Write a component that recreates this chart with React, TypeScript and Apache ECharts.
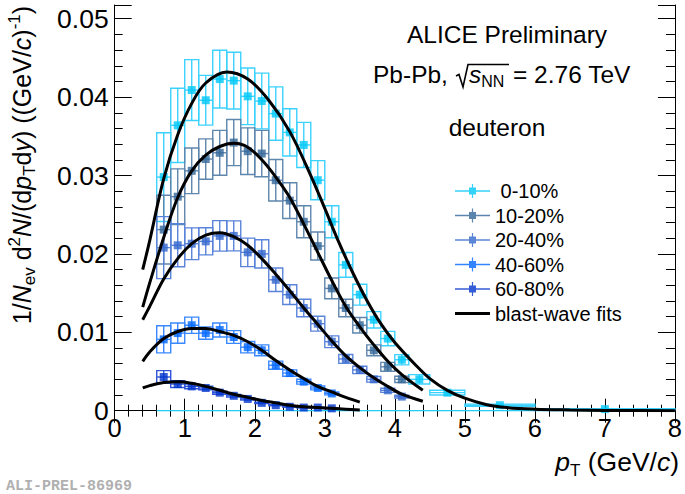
import { useEffect, useRef } from 'react';
import * as echarts from 'echarts';

// ---------- data ----------
const centralityLabels = ['0-10%', '10-20%', '20-40%', '40-60%', '60-80%'];
const fitLabel = 'blast-wave fits';
const markerColors = ['#00c8f8', '#336699', '#3366cc', '#0066ff', '#0033cc'];
const boxColors = ['#3cd2ff', '#5f86ad', '#5a84da', '#3a88ff', '#2f55d8'];

const ptBinCenters = [0.7, 0.9, 1.1, 1.3, 1.5, 1.7, 1.9, 2.1, 2.3, 2.5, 2.7, 2.9, 3.1, 3.3, 3.5, 3.7, 3.9, 4.1, 4.35, 4.75, 5.5, 7.0];
const ptBinWidths = [0.2, 0.2, 0.2, 0.2, 0.2, 0.2, 0.2, 0.2, 0.2, 0.2, 0.2, 0.2, 0.2, 0.2, 0.2, 0.2, 0.2, 0.2, 0.3, 0.5, 1.0, 2.0];
const sysRelative = [0.19, 0.13, 0.095, 0.08, 0.087, 0.086, 0.09, 0.09, 0.09, 0.085, 0.085, 0.085, 0.085, 0.085, 0.09, 0.09, 0.1, 0.1, 0.15, 0.13, 0.2, 0.3];

const yields0to10 = [0.0298, 0.0364, 0.0409, 0.0396, 0.0423, 0.0421, 0.0401, 0.0395, 0.0379, 0.0355, 0.0339, 0.0294, 0.0241, 0.0186, 0.0148, 0.0116, 0.0092, 0.0065, 0.0040, 0.0023, 0.0007, 0.0002];
const yields10to20 = [0.0231, 0.0273, 0.0306, 0.0321, 0.0329, 0.0342, 0.0331, 0.0328, 0.0294, 0.0268, 0.0241, 0.0210, 0.0156, 0.0131, 0.0109, 0.0077, 0.0056, 0.0040];
const yields20to40 = [0.0208, 0.0211, 0.0213, 0.0216, 0.0223, 0.0223, 0.0202, 0.0200, 0.0167, 0.0148, 0.0131, 0.0111, 0.0088, 0.0066, 0.0052, 0.0040, 0.0026, 0.0018];
const yields40to60 = [0.0091, 0.0099, 0.0109, 0.0099, 0.0103, 0.0094, 0.0081, 0.0077, 0.0058, 0.0048, 0.0037, 0.0029, 0.0022];
const yields60to80 = [0.0043, 0.0034, 0.0031, 0.0029, 0.0023, 0.0019, 0.0015, 0.0010, 0.0007, 0.0005, 0.0004, 0.0004, 0.0003];

const fitPt0to10 = [0.4, 0.5, 0.7, 0.9, 1.1, 1.3, 1.6, 1.9, 2.2, 2.5, 2.8, 3.0, 3.2, 3.4, 3.6, 3.8, 4.0, 4.3, 4.5, 4.75, 5.0, 5.3, 5.6, 6.0, 6.5, 7.0, 8.0];
const fitVal0to10 = [0.0180, 0.0217, 0.0296, 0.0352, 0.0392, 0.0418, 0.0432, 0.0423, 0.0396, 0.0356, 0.0300, 0.0258, 0.0215, 0.0176, 0.0141, 0.0111, 0.0087, 0.0058, 0.0041, 0.0026, 0.0016, 0.0008, 0.0004, 0.0002, 0.0001, 0.00004, 0.0];
const fitPt10to20 = [0.4, 0.5, 0.7, 0.9, 1.1, 1.3, 1.5, 1.7, 1.9, 2.1, 2.3, 2.5, 2.7, 2.9, 3.1, 3.3, 3.5, 3.7, 3.9, 4.1, 4.4];
const fitVal10to20 = [0.0132, 0.0163, 0.0221, 0.0272, 0.0306, 0.0326, 0.0337, 0.0341, 0.0336, 0.0320, 0.0298, 0.0272, 0.0238, 0.0202, 0.0166, 0.0133, 0.0107, 0.0084, 0.0063, 0.0046, 0.0026];
const fitPt20to40 = [0.4, 0.5, 0.7, 0.9, 1.1, 1.3, 1.5, 1.7, 1.9, 2.1, 2.3, 2.5, 2.7, 2.9, 3.1, 3.3, 3.5, 3.7, 3.9, 4.1, 4.4];
const fitVal20to40 = [0.0116, 0.0133, 0.0168, 0.0194, 0.0213, 0.0224, 0.0227, 0.0222, 0.0211, 0.0194, 0.0174, 0.0153, 0.0131, 0.0110, 0.0089, 0.0070, 0.0055, 0.0042, 0.0031, 0.0021, 0.0012];
const fitPt40to60 = [0.4, 0.5, 0.7, 0.9, 1.1, 1.3, 1.5, 1.7, 1.9, 2.1, 2.3, 2.5, 2.7, 2.9, 3.1, 3.3, 3.5];
const fitVal40to60 = [0.0063, 0.0075, 0.0092, 0.0101, 0.0105, 0.0105, 0.0101, 0.0096, 0.0088, 0.0077, 0.0064, 0.0052, 0.0041, 0.0031, 0.0024, 0.0017, 0.0011];
const fitPt60to80 = [0.4, 0.5, 0.7, 0.9, 1.1, 1.3, 1.5, 1.7, 1.9, 2.1, 2.3, 2.5, 2.7, 2.9, 3.1, 3.3, 3.5];
const fitVal60to80 = [0.0029, 0.0032, 0.0036, 0.0037, 0.0035, 0.0031, 0.0026, 0.0021, 0.0017, 0.0013, 0.0010, 0.0007, 0.0005, 0.0004, 0.0003, 0.0002, 0.0001];

const baselinePt = [0.6, 8];

const yTickValues = [0, 0.01, 0.02, 0.03, 0.04, 0.05];
const yTickLabels = ['0', '0.01', '0.02', '0.03', '0.04', '0.05'];
const xTickValues = [0, 1, 2, 3, 4, 5, 6, 7, 8];
const xTickLabels = ['0', '1', '2', '3', '4', '5', '6', '7', '8'];

const allYields = [yields0to10, yields10to20, yields20to40, yields40to60, yields60to80];
const allFitPt = [fitPt0to10, fitPt10to20, fitPt20to40, fitPt40to60, fitPt60to80];
const allFitVal = [fitVal0to10, fitVal10to20, fitVal20to40, fitVal40to60, fitVal60to80];

const Y_MAX = 0.05175;
const FONT = 'Liberation Sans';

function labelFor(values: number[], labels: string[], v: number) {
  for (let i = 0; i < values.length; i++) {
    if (Math.abs(values[i] - v) < 1e-9) return labels[i];
  }
  return '';
}

function richStyles(size: number) {
  const sub = Math.round(size * 0.66);
  return {
    n: { fontSize: size, fontFamily: FONT, lineHeight: size * 1.25, color: '#000' },
    i: { fontSize: size, fontFamily: FONT, fontStyle: 'italic', lineHeight: size * 1.25, color: '#000' },
    sub: { fontSize: sub, fontFamily: FONT, lineHeight: sub, verticalAlign: 'bottom', color: '#000' },
    sup: { fontSize: sub, fontFamily: FONT, lineHeight: sub, verticalAlign: 'top', color: '#000' },
  };
}

export default function App() {
  const ref = useRef<HTMLDivElement>(null);
  useEffect(() => {
    if (!ref.current) return;
    const chart = echarts.init(ref.current, null, { renderer: 'svg' });

    const series: any[] = [];
    // systematic boxes
    allYields.forEach((ys, s) => {
      const col = boxColors[s];
      series.push({
        type: 'custom',
        name: centralityLabels[s] + ' sys',
        xAxisIndex: 0,
        yAxisIndex: 0,
        z: 2,
        data: ys.map((y, i) => [ptBinCenters[i], y, ptBinWidths[i], y * sysRelative[i]]),
        renderItem: (_p: any, api: any) => {
          const x = api.value(0), y = api.value(1), w = api.value(2), e = api.value(3);
          const p0 = api.coord([x - w / 2, y + e]);
          const p1 = api.coord([x + w / 2, y - e]);
          const c = api.coord([x, y]);
          const st = { stroke: col, fill: 'none', lineWidth: 1.4 };
          return {
            type: 'group',
            children: [
              { type: 'rect', shape: { x: p0[0], y: p0[1], width: p1[0] - p0[0], height: Math.max(p1[1] - p0[1], 0.5) }, style: st },
              { type: 'line', shape: { x1: c[0], y1: p0[1], x2: c[0], y2: p1[1] }, style: st },
              { type: 'line', shape: { x1: p0[0], y1: c[1], x2: p1[0], y2: c[1] }, style: st },
            ],
          };
        },
      });
    });
    // markers
    allYields.forEach((ys, s) => {
      series.push({
        type: 'scatter',
        name: centralityLabels[s],
        symbol: 'rect',
        symbolSize: 8,
        z: 3,
        itemStyle: { color: markerColors[s] },
        data: ys.map((y, i) => [ptBinCenters[i], y]),
      });
    });
    // baseline
    series.push({
      type: 'line',
      name: 'baseline',
      z: 2,
      symbol: 'none',
      lineStyle: { color: '#22ccf5', width: 1.5 },
      data: baselinePt.map((x) => [x, 0]),
    });
    // fits
    allFitPt.forEach((xs, s) => {
      series.push({
        type: 'line',
        name: fitLabel,
        z: 4,
        smooth: 0.35,
        showSymbol: false,
        symbol: 'none',
        itemStyle: { color: '#000' },
        lineStyle: { color: '#000', width: 3 },
        data: xs.map((x, i) => [x, allFitVal[s][i]]),
      });
    });

    const markerIcon = 'path://M0,6.3H35V7.7H0Z M14,3.5H21V10.5H14Z M16.9,0H18.1V14H16.9Z';
    const lineIcon = 'path://M0,0H0.01V0.01H0Z M0,5.5H35V8.5H0Z M34.99,13.99H35V14H34.99Z';

    const xCommon = {
      type: 'value', min: 0, max: 8, interval: 1,
      splitLine: { show: false },
      axisLine: { show: true, lineStyle: { color: '#000', width: 1 } },
    };
    const yCommon = {
      type: 'value', min: 0, max: Y_MAX,
      splitLine: { show: false },
      axisLine: { show: true, lineStyle: { color: '#000', width: 1 } },
    };

    const textSize = 24.5;

    chart.setOption({
      animation: false,
      backgroundColor: '#fff',
      grid: { left: 114.7, right: 6, top: 5, bottom: 83.3, containLabel: false },
      xAxis: [
        {
          ...xCommon, position: 'bottom',
          axisTick: { show: true, inside: true, length: 12, lineStyle: { color: '#000' } },
          minorTick: { show: true, splitNumber: 5, length: 6, lineStyle: { color: '#000' } },
          axisLabel: {
            show: true, fontSize: 25.5, fontFamily: FONT, color: '#000', margin: 4,
            formatter: (v: number) => labelFor(xTickValues, xTickLabels, v),
          },
        },
        {
          ...xCommon, position: 'top',
          axisTick: { show: true, inside: true, length: 12, lineStyle: { color: '#000' } },
          minorTick: { show: true, splitNumber: 5, length: 6, lineStyle: { color: '#000' } },
          axisLabel: { show: false },
        },
      ],
      yAxis: [
        {
          ...yCommon, position: 'left', interval: 0.01,
          axisTick: { show: true, inside: true, length: 17, lineStyle: { color: '#000' } },
          axisLabel: {
            show: true, fontSize: 26.5, fontFamily: FONT, color: '#000', margin: 6,
            formatter: (v: number) => labelFor(yTickValues, yTickLabels, v),
          },
        },
        {
          ...yCommon, position: 'left', interval: 0.002,
          axisLine: { show: false },
          axisTick: { show: true, inside: true, length: 8, lineStyle: { color: '#000' } },
          axisLabel: { show: false },
        },
        {
          ...yCommon, position: 'right', interval: 0.01,
          axisTick: { show: true, inside: true, length: 17, lineStyle: { color: '#000' } },
          axisLabel: { show: false },
        },
        {
          ...yCommon, position: 'right', interval: 0.002,
          axisLine: { show: false },
          axisTick: { show: true, inside: true, length: 9, lineStyle: { color: '#000' } },
          axisLabel: { show: false },
        },
      ],
      legend: {
        show: true,
        orient: 'vertical',
        left: 450,
        top: 176,
        itemWidth: 35,
        itemHeight: 14,
        itemGap: 4.5,
        selectedMode: false,
        textStyle: { fontSize: 20, fontFamily: FONT, color: '#000', lineHeight: 20 },
        formatter: (name: string) => (name === centralityLabels[0] ? ' ' + name : name),
        data: [
          ...centralityLabels.map((n) => ({ name: n, icon: markerIcon })),
          { name: fitLabel, icon: lineIcon },
        ],
      },
      graphic: [
        {
          type: 'text', x: 507, y: 34,
          style: { text: 'ALICE Preliminary', fontSize: textSize, fontFamily: FONT, fill: '#000', align: 'center', verticalAlign: 'middle' },
        },
        {
          type: 'text', x: 373, y: 74,
          style: { text: 'Pb-Pb,', fontSize: textSize, fontFamily: FONT, fill: '#000', align: 'left', verticalAlign: 'middle' },
        },
        {
          type: 'polyline',
          shape: { points: [[456, 76], [459, 74.5], [463, 87], [468, 64.5], [509, 64.5]] },
          style: { stroke: '#000', lineWidth: 1.6, fill: 'none' },
        },
        {
          type: 'text', x: 469, y: 74,
          style: {
            text: '{i|s}{sub|NN}',
            rich: richStyles(textSize), align: 'left', verticalAlign: 'middle',
          },
        },
        {
          type: 'text', x: 513, y: 74,
          style: { text: '= 2.76 TeV', fontSize: textSize, fontFamily: FONT, fill: '#000', align: 'left', verticalAlign: 'middle' },
        },
        {
          type: 'text', x: 497, y: 127,
          style: { text: 'deuteron', fontSize: textSize, fontFamily: FONT, fill: '#000', align: 'center', verticalAlign: 'middle' },
        },
        {
          type: 'text', x: 22, y: 165, rotation: Math.PI / 2,
          style: {
            text: '{n|1/}{i|N}{sub|ev}{n| d}{sup|2}{i|N}{n|/(d}{i|p}{sub|T}{n|d}{i|y}{n|) ((GeV/}{i|c}{n|)}{sup|-1}{n|)}',
            rich: richStyles(25), align: 'center', verticalAlign: 'middle',
          },
        },
        {
          type: 'text', x: 679, y: 462,
          style: {
            text: '{i|p}{sub|T}{n| (GeV/}{i|c}{n|)}',
            rich: richStyles(26.5), align: 'right', verticalAlign: 'middle',
          },
        },
        {
          type: 'text', x: 6, y: 486,
          style: { text: 'ALI-PREL-86969', fontSize: 15, fontWeight: 'bold', fontFamily: 'Liberation Mono', fill: '#b0b0b0', align: 'left', verticalAlign: 'middle' },
        },
      ],
      series,
    });
    return () => chart.dispose();
  }, []);
  return <div ref={ref} style={{ position: 'fixed', left: 0, top: 0, width: 685, height: 494 }} />;
}
